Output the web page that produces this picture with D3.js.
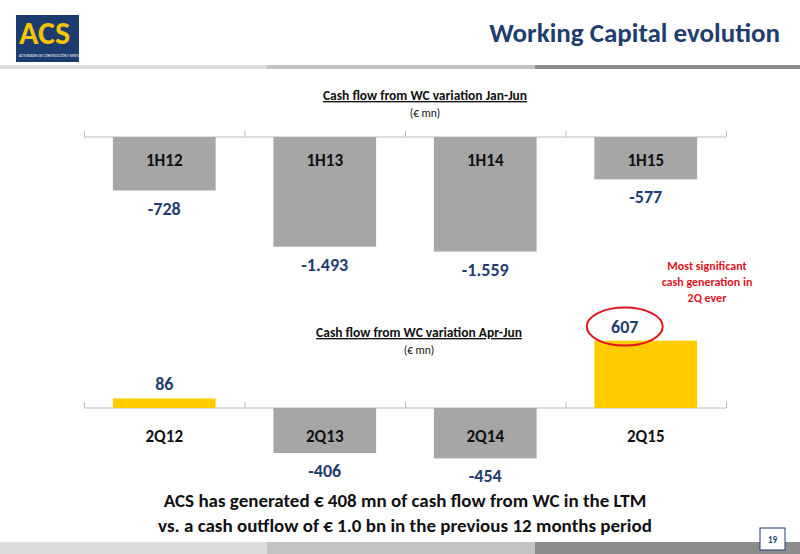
<!DOCTYPE html>
<html><head><meta charset="utf-8">
<script src="https://cdn.jsdelivr.net/npm/d3@7"></script>
<style>body{margin:0;background:#fff}text{font-family:Calibri,"Open Sans",Lato,sans-serif}</style>
</head><body><div id="chart"></div>
<script>
// Data
const halfCats = ["1H12", "1H13", "1H14", "1H15"];
const halfVals = [-728, -1493, -1559, -577];
const halfLabels = ["-728", "-1.493", "-1.559", "-577"];
const qCats = ["2Q12", "2Q13", "2Q14", "2Q15"];
const qVals = [86, -406, -454, 607];
const qLabels = ["86", "-406", "-454", "607"];
const highlight = "2Q15";

const W = 800, H = 554;
const svg = d3.select("#chart").append("svg").attr("width", W).attr("height", H);
const navy = "#1f3d6d";

// Header stripes
[[0, 267, "#dcdcdc"], [267, 535, "#c4c4c4"], [535, 800, "#8c8c8c"]].forEach(s => {
  svg.append("rect").attr("x", s[0]).attr("y", 65).attr("width", s[1] - s[0]).attr("height", 4).attr("fill", s[2]);
  svg.append("rect").attr("x", s[0]).attr("y", 542).attr("width", s[1] - s[0]).attr("height", 12).attr("fill", s[2]);
});

// Logo
svg.append("rect").attr("x", 16).attr("y", 15).attr("width", 63).attr("height", 47).attr("fill", "#1c3b6e");
svg.append("text").attr("x", 19).attr("y", 44).attr("fill", "#f5c400").attr("font-size", 32).attr("font-weight", "bold").text("ACS");
svg.append("text").attr("x", 19).attr("y", 57).attr("fill", "#fff").attr("font-size", 3.5).text("ACTIVIDADES DE CONSTRUCCIÓN Y SERVICIOS");

svg.append("text").attr("x", 780).attr("y", 42).attr("text-anchor", "end").attr("fill", navy)
  .attr("font-size", 27).attr("font-weight", "bold").text("Working Capital evolution");

const x = d3.scaleBand().domain(halfCats).range([84, 726]).paddingInner(0.36).paddingOuter(0.18);
const xq = d3.scaleBand().domain(qCats).range([84, 726]).paddingInner(0.36).paddingOuter(0.18);

function panel(cats, vals, labels, xs, y0, k, colorFn, catY, title, titleX, titleY) {
  const y = d3.scaleLinear().domain([0, 1]).range([y0, y0 - k]);
  svg.append("g").attr("transform", `translate(0,${y0})`)
    .call(d3.axisBottom(d3.scaleLinear().domain([0, 4]).range([84, 726])).ticks(4).tickSize(6).tickFormat(""))
    .call(g => { g.selectAll("line").attr("stroke", "#bbb").attr("transform", "translate(0,-6)").attr("y2", 6);
                 g.select(".domain").attr("stroke", "#bbb").attr("d", "M84,0H726"); });
  cats.forEach((c, i) => {
    const v = vals[i];
    svg.append("rect").attr("x", xs(c)).attr("width", xs.bandwidth())
      .attr("y", Math.min(y(v), y(0))).attr("height", Math.abs(y(v) - y(0))).attr("fill", colorFn(v));
    svg.append("text").attr("x", xs(c) + xs.bandwidth() / 2).attr("y", catY).attr("text-anchor", "middle")
      .attr("font-size", 17).attr("font-weight", "bold").attr("fill", "#111").text(c);
    const ly = v < 0 ? y(v) + 24 : y(v) - 8;
    const lx = xs(c) + xs.bandwidth() / 2 - (c === highlight ? 21 : 0);
    svg.append("text").attr("x", lx).attr("y", ly).attr("text-anchor", "middle")
      .attr("font-size", 18).attr("font-weight", "bold").attr("fill", navy).text(labels[i]);
    if (c === highlight) {
      svg.append("ellipse").attr("cx", lx).attr("cy", ly - 6).attr("rx", 38).attr("ry", 19)
        .attr("fill", "none").attr("stroke", "#e0141e").attr("stroke-width", 2);
    }
  });
  svg.append("text").attr("x", titleX).attr("y", titleY).attr("text-anchor", "middle").attr("font-size", 13.5)
    .attr("font-weight", "bold").attr("text-decoration", "underline").attr("fill", "#111").text(title);
  svg.append("text").attr("x", titleX).attr("y", titleY + 17).attr("text-anchor", "middle").attr("font-size", 11.5)
    .attr("fill", "#111").text("(€ mn)");
}

panel(halfCats, halfVals, halfLabels, x, 137, 0.0735, () => "#a6a6a6", 166, "Cash flow from WC variation Jan-Jun", 425, 100);
panel(qCats, qVals, qLabels, xq, 408, 0.111, v => v > 0 ? "#ffcc00" : "#a6a6a6", 442, "Cash flow from WC variation Apr-Jun", 419, 337);

["Most significant", "cash generation in", "2Q ever"].forEach((t, i) =>
  svg.append("text").attr("x", 707).attr("y", 270 + i * 16).attr("text-anchor", "middle").attr("font-size", 12)
    .attr("font-weight", "bold").attr("fill", "#e0141e").text(t));

// Footer text
["ACS has generated € 408 mn of cash flow from WC in the LTM", "vs. a cash outflow of € 1.0 bn in the previous 12 months period"]
  .forEach((t, i) => svg.append("text").attr("x", 405).attr("y", 507 + i * 25).attr("text-anchor", "middle")
    .attr("font-size", 19).attr("font-weight", "bold").attr("fill", "#111").text(t));

svg.append("rect").attr("x", 760).attr("y", 528).attr("width", 25).attr("height", 22).attr("fill", "#fff")
  .attr("stroke", "#1f3d6d");
svg.append("text").attr("x", 772.5).attr("y", 543).attr("text-anchor", "middle").attr("font-size", 9)
  .attr("font-weight", "bold").attr("fill", navy).text("19");
</script></body></html>
